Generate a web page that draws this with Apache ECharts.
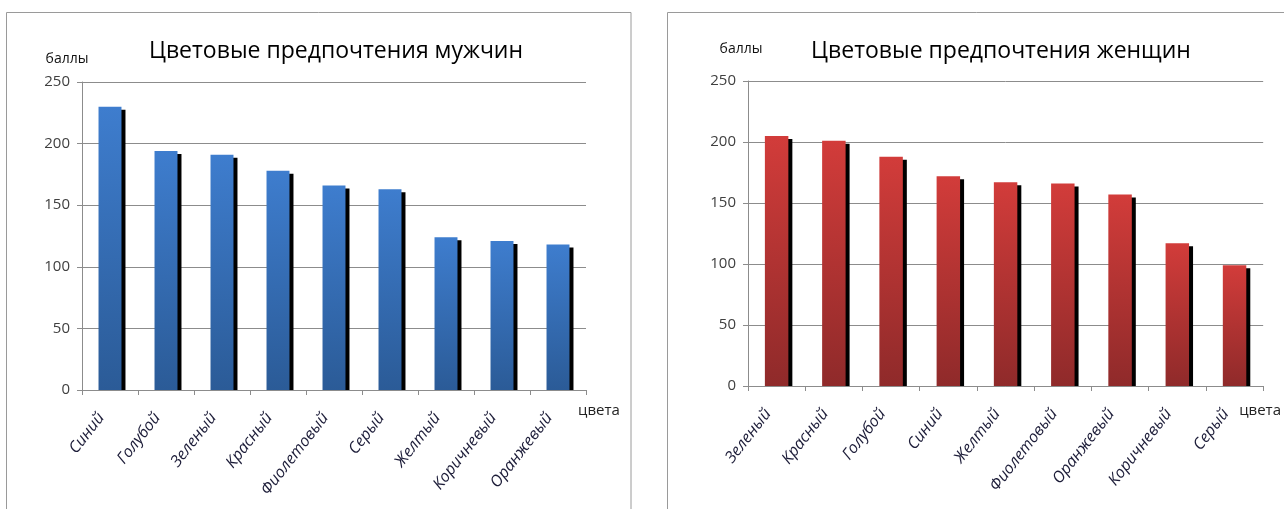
<!DOCTYPE html>
<html>
<head>
<meta charset="utf-8">
<script src="https://cdn.jsdelivr.net/npm/echarts@6/dist/echarts.min.js"></script>
<style>
  html, body { margin: 0; padding: 0; background: #fff; }
  #chart { width: 1284px; height: 509px; }
</style>
</head>
<body>
<div id="chart"></div>
<script>
// Men's colour preferences (points)
const menColors = ['Синий', 'Голубой', 'Зеленый', 'Красный', 'Фиолетовый', 'Серый', 'Желтый', 'Коричневый', 'Оранжевый'];
const menScores = [230, 194, 191, 178, 166, 163, 124, 121, 118];

// Women's colour preferences (points)
const womenColors = ['Зеленый', 'Красный', 'Голубой', 'Синий', 'Желтый', 'Фиолетовый', 'Оранжевый', 'Коричневый', 'Серый'];
const womenScores = [205, 201, 188, 172, 167, 166, 157, 117, 99];

const titles = ['Цветовые предпочтения мужчин', 'Цветовые предпочтения женщин'];
const yName = 'баллы';
const xName = 'цвета';

const FONT = '"Open Sans", "Noto Sans", sans-serif';

const chart = echarts.init(document.getElementById('chart'), null, { renderer: 'canvas' });

// Bar with a hard black drop shadow on its right side
function barRenderer(top, bottom) {
  return function (params, api) {
    const idx = api.value(0);
    const p = api.coord([idx, api.value(1)]);
    const b = api.coord([idx, 0]);
    const w = api.size([1, 0])[0] * 0.41;
    const x0 = p[0] - w / 2;
    const h = b[1] - p[1];
    return {
      type: 'group',
      children: [
        { type: 'rect', shape: { x: x0 + 4, y: p[1] + 3, width: w, height: h - 3 }, style: { fill: '#000' } },
        {
          type: 'rect', shape: { x: x0, y: p[1], width: w, height: h },
          style: { fill: new echarts.graphic.LinearGradient(0, 0, 0, 1, [
            { offset: 0, color: top }, { offset: 1, color: bottom }
          ]) }
        }
      ]
    };
  };
}

function xAxis(gridIndex, cats, nameGap, nameDrop) {
  return {
    type: 'category', gridIndex, data: cats,
    name: xName, nameLocation: 'end', nameGap: nameGap,
    nameTextStyle: { fontFamily: FONT, fontSize: 15, color: '#222', verticalAlign: 'top', align: 'left', padding: [nameDrop, 0, 0, 0] },
    axisLine: { lineStyle: { color: '#8c8c8c', width: 1 } },
    axisTick: { show: true, length: 5, alignWithLabel: false, lineStyle: { color: '#8c8c8c' } },
    axisLabel: {
      rotate: 52, interval: 0, margin: 14, padding: [0, 14, 0, 0],
      fontFamily: FONT, fontStyle: 'italic', fontSize: 16, color: '#1c1c38'
    },
    splitLine: { show: false }
  };
}

function yAxis(gridIndex, nameShift, nameUp) {
  return {
    type: 'value', gridIndex, min: 0, max: 250, interval: 50,
    name: yName, nameLocation: 'end', nameGap: nameUp,
    nameTextStyle: { fontFamily: FONT, fontSize: 14, color: '#111', align: 'center', padding: [0, nameShift, 0, 0] },
    axisLine: { show: true, lineStyle: { color: '#8c8c8c' } },
    axisTick: { show: true, length: 5, lineStyle: { color: '#8c8c8c' } },
    axisLabel: { margin: 12, fontFamily: FONT, fontSize: 15, color: '#404040' },
    splitLine: { lineStyle: { color: '#8c8c8c', width: 1 } }
  };
}

chart.setOption({
  animation: false,
  backgroundColor: '#fff',
  graphic: [
    { type: 'rect', shape: { x: 6.5, y: 12.5, width: 624.5, height: 520 }, style: { fill: 'none', stroke: '#9a9a9a', lineWidth: 1 }, z: -1 },
    { type: 'rect', shape: { x: 667.5, y: 12.5, width: 640, height: 520 }, style: { fill: 'none', stroke: '#9a9a9a', lineWidth: 1 }, z: -1 }
  ],
  title: [
    { text: titles[0], left: 331, top: 46, textAlign: 'center', textVerticalAlign: 'middle',
      textStyle: { fontFamily: FONT, fontSize: 23, fontWeight: 'normal', color: '#000' } },
    { text: titles[1], left: 996, top: 46, textAlign: 'center', textVerticalAlign: 'middle',
      textStyle: { fontFamily: FONT, fontSize: 23, fontWeight: 'normal', color: '#000' } }
  ],
  grid: [
    { left: 82, right: 698, top: 82, bottom: 119 },
    { left: 748, right: 10, top: 81, bottom: 123 }
  ],
  xAxis: [xAxis(0, menColors, -8, 13), xAxis(1, womenColors, -24, 17)],
  yAxis: [yAxis(0, 30, 16), yAxis(1, 14, 25)],
  series: [
    {
      type: 'custom', xAxisIndex: 0, yAxisIndex: 0,
      data: menScores.map((v, i) => [i, v]),
      renderItem: barRenderer('#3e7dce', '#2b5b97')
    },
    {
      type: 'custom', xAxisIndex: 1, yAxisIndex: 1,
      data: womenScores.map((v, i) => [i, v]),
      renderItem: barRenderer('#d23c3a', '#8f2a2a')
    }
  ]
});
</script>
</body>
</html>
